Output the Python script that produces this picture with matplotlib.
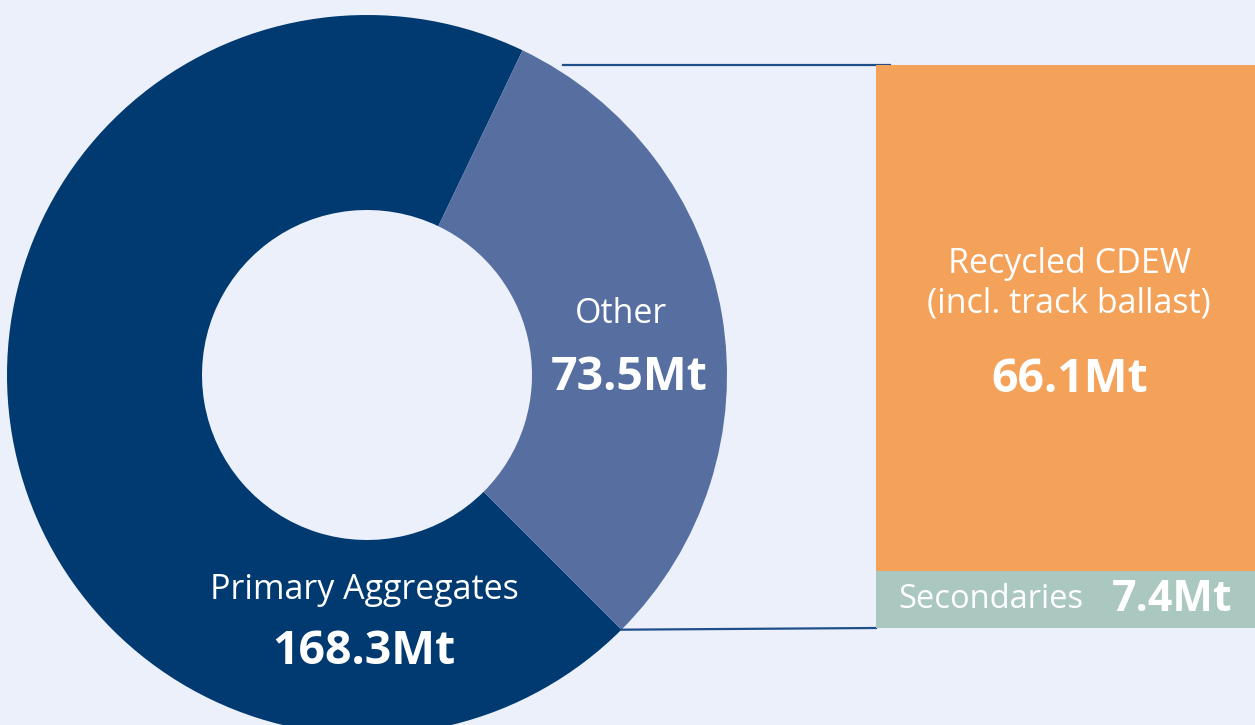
import matplotlib.pyplot as plt
import numpy as np

# donut data (Mt)
pie_labels = ['Primary Aggregates', 'Other']
pie_values = [168.3, 73.5]
pie_colors = ['#003A70', '#566FA0']

# breakdown of "Other" (Mt)
bar_labels = ['Secondaries', 'Recycled CDEW\n(incl. track ballast)']
bar_values = [7.4, 66.1]
bar_colors = ['#ABC8C0', '#F4A259']

bg = '#ECF0FA'
line_col = '#1F4F8A'
plt.rcParams['font.family'] = ['Open Sans', 'DejaVu Sans']

fig = plt.figure(figsize=(12.55, 7.25), dpi=100, facecolor=bg)

# pie axes in pixel-like units (y up)
ax = fig.add_axes([0, 0, 1, 1])
cx, cy, r = 367, 350, 360
start = 64.4
ax.pie(pie_values, colors=pie_colors, startangle=start, counterclock=True,
       center=(cx, cy), radius=r, frame=True,
       wedgeprops=dict(width=r - 165, linewidth=0))
ax.set_xlim(0, 1255)
ax.set_ylim(0, 725)
ax.set_aspect('equal')
ax.axis('off')

# text on the donut
ax.text(364, 135, 'Primary Aggregates', color='white', fontsize=24.5, ha='center', va='center')
ax.text(364, 74, '168.3Mt', color='white', fontsize=33.5, fontweight='bold', ha='center', va='center')
ax.text(621, 411, 'Other', color='white', fontsize=24.5, ha='center', va='center')
ax.text(629, 348, '73.5Mt', color='white', fontsize=33.5, fontweight='bold', ha='center', va='center')

# bar axes
bx = fig.add_axes([876 / 1255, 97 / 725, 379 / 1255, 563 / 725])
bottom = 0
for lab, val, col in zip(bar_labels, bar_values, bar_colors):
    bx.bar(0, val, bottom=bottom, width=1, color=col, linewidth=0)
    bottom += val
bx.set_xlim(-0.5, 0.5)
bx.set_ylim(0, sum(bar_values))
bx.axis('off')

bx.text(-0.44, bar_values[0] / 2, 'Secondaries', color='white', fontsize=23.5,
        ha='left', va='center')
bx.text(0.44, bar_values[0] / 2, '7.4Mt', color='white', fontsize=31,
        fontweight='bold', ha='right', va='center')
bx.text(0.01, 44.9, bar_labels[1], color='white', fontsize=24.5, ha='center',
        va='center', linespacing=1.2)
bx.text(0.01, 32.4, '66.1Mt', color='white', fontsize=33.5, fontweight='bold',
        ha='center', va='center')

# connector lines
a2 = np.deg2rad(start + 360 * pie_values[0] / sum(pie_values))
ax.plot([563, 890], [660, 660], color=line_col, lw=1.6, zorder=5)
ax.plot([cx + r * np.cos(a2), 876], [cy + r * np.sin(a2), 97], color=line_col, lw=1.6)

fig.savefig('out.png', dpi=100, facecolor=bg)
